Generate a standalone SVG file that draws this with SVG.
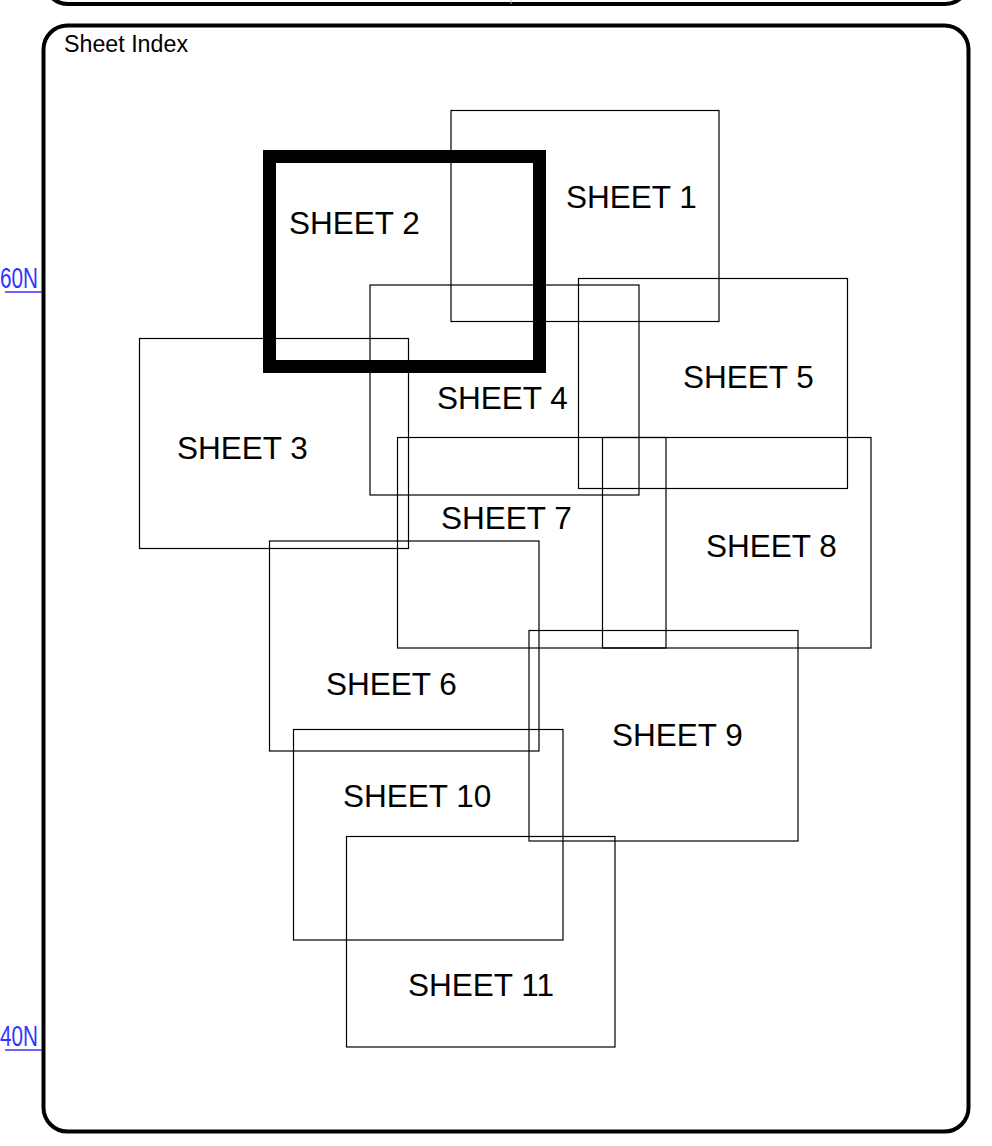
<svg xmlns="http://www.w3.org/2000/svg" width="992" height="1146" viewBox="0 0 992 1146">
<style>
.frame{fill:none;stroke:#000;stroke-width:4}
.sheet{fill:none;stroke:#000;stroke-width:1.2}
.sel{fill:none;stroke:#000;stroke-width:13}
.lbl{font-family:"Liberation Sans",Arial,sans-serif;font-size:31.5px;fill:#000}
.title{font-family:"Liberation Sans",Arial,sans-serif;font-size:23px;fill:#000}
.lat{font-family:"Liberation Sans",Arial,sans-serif;font-size:29px;fill:#3333ff}
</style>
<rect width="992" height="1146" fill="#fff"/>
<g id="top-panel">
<rect class="frame" x="44" y="-100" width="925" height="104" rx="24"/>
<line x1="511" y1="0" x2="511" y2="4" stroke="#c8a0e0" stroke-width="1"/>
</g>
<g id="frame">
<rect class="frame" x="43.5" y="25.5" width="925" height="1106" rx="24"/>
<text class="title" x="64" y="52" textLength="124" lengthAdjust="spacingAndGlyphs">Sheet Index</text>
</g>
<g id="lat-60N">
<text class="lat" x="0" y="288" textLength="38" lengthAdjust="spacingAndGlyphs">60N</text>
<line x1="5" y1="292" x2="42" y2="292" stroke="#3333ff" stroke-width="1.5"/>
</g>
<g id="lat-40N">
<text class="lat" x="0" y="1046" textLength="38" lengthAdjust="spacingAndGlyphs">40N</text>
<line x1="5" y1="1050" x2="42" y2="1050" stroke="#3333ff" stroke-width="1.5"/>
</g>
<g id="sheet1"><rect class="sheet" x="451" y="110.5" width="268" height="211"/><text class="lbl" x="566" y="208">SHEET 1</text></g>
<g id="sheet3"><rect class="sheet" x="139.5" y="338.5" width="269" height="210"/><text class="lbl" x="177" y="459">SHEET 3</text></g>
<g id="sheet4"><rect class="sheet" x="370" y="285" width="269" height="210"/><text class="lbl" x="437" y="409">SHEET 4</text></g>
<g id="sheet5"><rect class="sheet" x="578.5" y="278.5" width="269" height="210"/><text class="lbl" x="683" y="388">SHEET 5</text></g>
<g id="sheet7"><rect class="sheet" x="397.5" y="437.5" width="268.5" height="210.5"/><text class="lbl" x="441" y="529">SHEET 7</text></g>
<g id="sheet8"><rect class="sheet" x="602.5" y="437.5" width="268.5" height="210.5"/><text class="lbl" x="706" y="557">SHEET 8</text></g>
<g id="sheet6"><rect class="sheet" x="269.5" y="541" width="269.5" height="210"/><text class="lbl" x="326" y="695">SHEET 6</text></g>
<g id="sheet9"><rect class="sheet" x="529" y="630.5" width="269" height="210.5"/><text class="lbl" x="612" y="746">SHEET 9</text></g>
<g id="sheet10"><rect class="sheet" x="293.5" y="729.5" width="269.5" height="210.5"/><text class="lbl" x="343" y="807">SHEET 10</text></g>
<g id="sheet11"><rect class="sheet" x="346.5" y="836.5" width="268.5" height="210.5"/><text class="lbl" x="408" y="996">SHEET 11</text></g>
<g id="sheet2"><rect class="sel" x="269.5" y="156.5" width="270" height="210"/><text class="lbl" x="289" y="234">SHEET 2</text></g>
<g id="connectors"/>
</svg>
